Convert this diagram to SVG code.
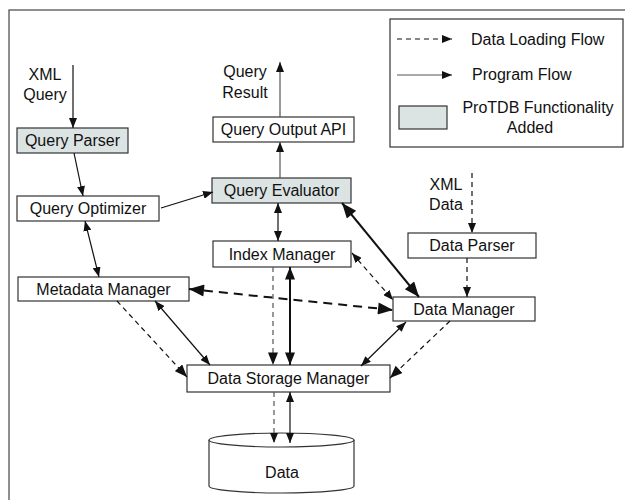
<svg xmlns="http://www.w3.org/2000/svg" width="625" height="500" viewBox="0 0 625 500">
<style>
text{font-family:"Liberation Sans",Arial,sans-serif;font-size:16px;fill:#111}
.c{text-anchor:middle}
.box{fill:#fff;stroke:#333;stroke-width:1.2}
.g{fill:#dce3e3}
.l{fill:none;stroke:#111;stroke-width:1.2}
.t{stroke-width:2}
.d{stroke-dasharray:5 4}
.dt{stroke-dasharray:9 6}
.gr{stroke:#555}
</style>
<defs>
<marker id="s" viewBox="0 0 10 8" refX="10" refY="4" markerWidth="10" markerHeight="8" markerUnits="userSpaceOnUse" orient="auto-start-reverse"><path d="M0,0L10,4L0,8z" fill="#111"/></marker>
<marker id="m" viewBox="0 0 10 8" refX="10" refY="4" markerWidth="13" markerHeight="10" markerUnits="userSpaceOnUse" orient="auto-start-reverse"><path d="M0,0L10,4L0,8z" fill="#111"/></marker>
<marker id="L" viewBox="0 0 10 8" refX="10" refY="4" markerWidth="17" markerHeight="12" markerUnits="userSpaceOnUse" orient="auto-start-reverse"><path d="M0,0L10,4L0,8z" fill="#111"/></marker>
</defs>
<rect x="9" y="10" width="630" height="500" fill="#fff" stroke="#444" stroke-width="1.2"/>

<g id="legend">
<rect x="390" y="19" width="233" height="128" fill="#fff" stroke="#333" stroke-width="1.2"/>
<line class="l d" x1="397" y1="39" x2="452" y2="39" marker-end="url(#s)"/>
<text x="471" y="45">Data Loading Flow</text>
<line class="l gr" x1="397" y1="75" x2="452" y2="75" marker-end="url(#s)"/>
<text x="472" y="80">Program Flow</text>
<rect class="box g" x="399" y="106" width="48" height="23"/>
<text class="c" x="538" y="113">ProTDB Functionality</text>
<text class="c" x="530" y="133">Added</text>
</g>

<g id="labels">
<text class="c" x="45" y="80">XML</text>
<text class="c" x="45" y="100">Query</text>
<text class="c" x="245" y="77">Query</text>
<text class="c" x="245" y="98">Result</text>
<text class="c" x="446" y="190">XML</text>
<text class="c" x="446" y="210">Data</text>
</g>

<g id="query-parser"><rect class="box g" x="17" y="128" width="111" height="25"/><text class="c" x="72.5" y="146">Query Parser</text></g>
<g id="query-optimizer"><rect class="box" x="17" y="196" width="142" height="25"/><text class="c" x="88" y="214">Query Optimizer</text></g>
<g id="query-output-api"><rect class="box" x="213" y="117" width="141" height="25"/><text class="c" x="283.5" y="135">Query Output API</text></g>
<g id="query-evaluator"><rect class="box g" x="212" y="178" width="139" height="25"/><text class="c" x="281.5" y="196">Query Evaluator</text></g>
<g id="index-manager"><rect class="box" x="213" y="241" width="138" height="26"/><text class="c" x="282" y="260">Index Manager</text></g>
<g id="data-parser"><rect class="box" x="408" y="233" width="128" height="25"/><text class="c" x="472" y="251">Data Parser</text></g>
<g id="data-manager"><rect class="box" x="393" y="297" width="142" height="24"/><text class="c" x="464" y="315">Data Manager</text></g>
<g id="metadata-manager"><rect class="box" x="18" y="277" width="171" height="24"/><text class="c" x="103.5" y="295">Metadata Manager</text></g>
<g id="data-storage-manager"><rect class="box" x="187" y="365" width="203" height="27"/><text class="c" x="288.5" y="384">Data Storage Manager</text></g>
<g id="data">
<path d="M209,440 L209,486 A72.5,7 0 0 0 354,486 L354,440" fill="#fff" stroke="#333" stroke-width="1.2"/>
<ellipse cx="281.5" cy="440" rx="72.5" ry="7" fill="#fff" stroke="#333" stroke-width="1.2"/>
<text class="c" x="282" y="478">Data</text>
</g>

<g id="connectors">
<line class="l" x1="73" y1="65" x2="73" y2="128" marker-end="url(#s)"/>
<line class="l" x1="74" y1="153" x2="83" y2="196" marker-end="url(#s)"/>
<line class="l" x1="161" y1="208" x2="213" y2="192" marker-end="url(#s)"/>
<line class="l gr" x1="280" y1="178" x2="280" y2="142" marker-end="url(#s)"/>
<line class="l gr" x1="280" y1="117" x2="280" y2="62" marker-end="url(#s)"/>
<line class="l" x1="278" y1="203" x2="278" y2="241" marker-start="url(#s)" marker-end="url(#s)"/>
<line class="l" x1="85" y1="221" x2="99" y2="277" marker-start="url(#s)" marker-end="url(#s)"/>
<line class="l t" x1="342" y1="203" x2="419" y2="297" marker-start="url(#L)" marker-end="url(#L)"/>
<line class="l d" x1="352" y1="253" x2="393" y2="300" marker-start="url(#s)" marker-end="url(#s)"/>
<line class="l d" x1="467" y1="258" x2="467" y2="297" marker-end="url(#s)"/>
<line class="l d" x1="472" y1="173" x2="472" y2="233" marker-end="url(#s)"/>
<line class="l t dt" x1="189" y1="289" x2="393" y2="310" marker-start="url(#L)" marker-end="url(#L)"/>
<line class="l d" x1="117" y1="301" x2="187" y2="377" marker-end="url(#m)"/>
<line class="l" x1="155" y1="301" x2="210" y2="365" marker-start="url(#s)" marker-end="url(#s)"/>
<line class="l d gr" x1="273" y1="267" x2="273" y2="365" marker-end="url(#m)"/>
<line class="l t" x1="290" y1="267" x2="290" y2="365" marker-start="url(#m)" marker-end="url(#m)"/>
<line class="l d gr" x1="274" y1="392" x2="274" y2="443" marker-end="url(#s)"/>
<line class="l" x1="290" y1="392" x2="290" y2="443" marker-start="url(#s)" marker-end="url(#s)"/>
<line class="l" x1="406" y1="322" x2="361" y2="366" marker-start="url(#s)" marker-end="url(#s)"/>
<line class="l d" x1="450" y1="321" x2="390" y2="378" marker-end="url(#m)"/>
</g>
</svg>
